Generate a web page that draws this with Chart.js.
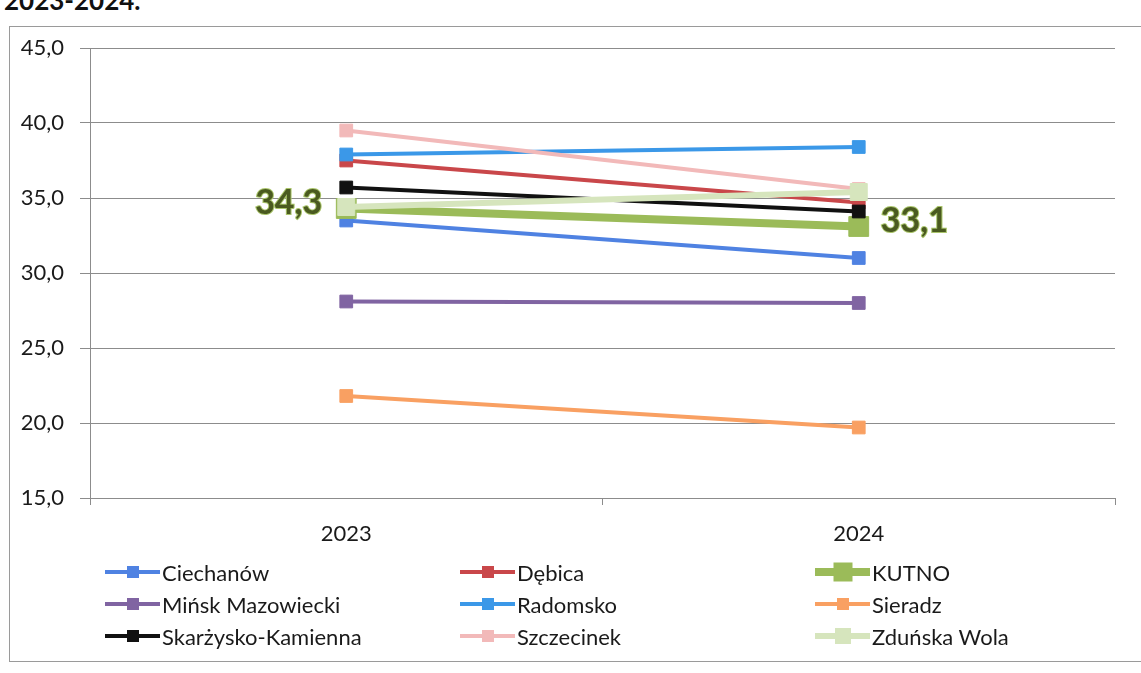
<!DOCTYPE html>
<html>
<head>
<meta charset="utf-8">
<script src="https://cdn.jsdelivr.net/npm/chart.js@4.4.1/dist/chart.umd.min.js"></script>
<style>
    body { margin: 0; background: #fff; width: 1141px; height: 673px; overflow: hidden; position: relative; font-family: Lato, sans-serif; }
    #title { position: absolute; left: 4px; top: -16px; font-weight: bold; font-size: 26px; color: #111; }
    #frame { position: absolute; left: 9px; top: 26px; width: 1160px; height: 634px; border: 1px solid #9a9a9a; }
    #wrap { position: absolute; left: 0; top: 0; width: 1141px; height: 673px; }
    #legend { position: absolute; left: 105px; top: 556px; display: grid; grid-template-columns: 355px 355px 300px; grid-auto-rows: 32px; font-size: 22px; color: #1a1a1a; }
    .item { display: flex; align-items: center; }
    .icon { position: relative; width: 55px; height: 22px; margin-right: 2px; }
    .icon .ln { position: absolute; left: 0; right: 0; top: 50%; transform: translateY(-50%); }
    .icon .sq { position: absolute; left: 50%; top: 50%; transform: translate(-50%, -50%); }
</style>
</head>
<body>
<div id="title">2023-2024.</div>
<div id="frame"></div>
<div id="wrap"><canvas id="chart"></canvas></div>
<div id="legend"></div>

<script>
const years = ['2023', '2024'];
const cities = ['Ciechanów', 'Dębica', 'KUTNO', 'Mińsk Mazowiecki', 'Radomsko', 'Sieradz', 'Skarżysko-Kamienna', 'Szczecinek', 'Zduńska Wola'];
const v2023 = [33.5, 37.5, 34.3, 28.1, 37.9, 21.8, 35.7, 39.5, 34.4];
const v2024 = [31.0, 34.7, 33.1, 28.0, 38.4, 19.7, 34.1, 35.6, 35.4];
const yTicks = [15, 20, 25, 30, 35, 40, 45];
const highlight = 'KUTNO';

const colors = ['#4f82e2', '#c9474a', '#9bbb59', '#8064a2', '#3b98e8', '#f9a062', '#111111', '#f2b9b9', '#d6e5bd'];
const widths = [4, 4, 8, 4, 4, 4, 4, 4, 6];
const radii = [9, 9, 14, 9, 9, 9, 9, 9, 12];

const fmt = v => v.toFixed(1).replace('.', ',');

// legend (row-major, same order as series)
const legend = document.getElementById('legend');
cities.forEach((name, i) => {
    const item = document.createElement('div');
    item.className = 'item';
    const sq = Math.round(radii[i] * 1.35);
    item.innerHTML = `
        <span class="icon">
            <span class="ln" style="height:${widths[i]}px;background:${colors[i]}"></span>
            <span class="sq" style="width:${sq}px;height:${sq}px;background:${colors[i]}"></span>
        </span>
        <span>${name}</span>
    `;
    legend.appendChild(item);
});

const kutnoLabels = {
    id: 'kutnoLabels',
    afterDatasetsDraw(chart) {
        const i = cities.indexOf(highlight);
        const meta = chart.getDatasetMeta(i);
        const ctx = chart.ctx;
        ctx.save();
        ctx.font = 'bold 34px Lato';
        ctx.textBaseline = 'middle';
        meta.data.forEach((pt, j) => {
            const txt = fmt(chart.data.datasets[i].data[j]);
            ctx.textAlign = j === 0 ? 'right' : 'left';
            const x = j === 0 ? pt.x - 24 : pt.x + 22;
            const y = pt.y - 5;
            ctx.lineWidth = 2;
            ctx.strokeStyle = '#a9c46a';
            ctx.strokeText(txt, x, y);
            ctx.fillStyle = '#4a5a20';
            ctx.fillText(txt, x, y);
        });
        ctx.restore();
    }
};

const datasets = cities.map((name, i) => ({
    label: name,
    data: [v2023[i], v2024[i]],
    borderColor: colors[i],
    backgroundColor: colors[i],
    borderWidth: widths[i],
    pointStyle: 'rect',
    pointRadius: radii[i],
    pointBorderWidth: 1,
    pointBorderColor: colors[i],
    pointBackgroundColor: colors[i],
    tension: 0,
    order: cities.length - i
}));

new Chart(document.getElementById('chart'), {
    type: 'line',
    data: { labels: years, datasets: datasets },
    options: {
        responsive: true,
        maintainAspectRatio: false,
        animation: false,
        layout: { padding: { left: 0, top: 48, right: 26, bottom: 125 } },
        plugins: {
            legend: { display: false },
            tooltip: { enabled: false }
        },
        scales: {
            y: {
                min: yTicks[0],
                max: yTicks[yTicks.length - 1],
                afterBuildTicks: s => { s.ticks = yTicks.map(v => ({ value: v })); },
                afterFit: s => { s.width = 90; },
                ticks: {
                    callback: v => fmt(v),
                    font: { family: 'Lato', size: 22 },
                    color: '#1a1a1a',
                    padding: 16
                },
                grid: { color: '#8c8c8c', tickLength: 10 },
                border: { color: '#8c8c8c' }
            },
            x: {
                offset: true,
                afterFit: s => { s.height = 50; },
                ticks: {
                    font: { family: 'Lato', size: 22 },
                    color: '#1a1a1a',
                    padding: 16
                },
                grid: { offset: true, drawOnChartArea: false, tickLength: 7, color: '#8c8c8c' },
                border: { color: '#8c8c8c' }
            }
        }
    },
    plugins: [kutnoLabels]
});
</script>
</body>
</html>
